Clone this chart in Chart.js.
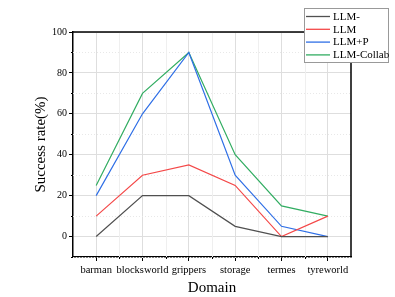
<!DOCTYPE html>
<html>
<head>
<meta charset="utf-8">
<script src="https://cdn.jsdelivr.net/npm/chart.js@4.4.0/dist/chart.umd.min.js"></script>
<style>
  html, body { margin: 0; padding: 0; background: #fff; }
  #wrap { width: 395px; height: 297px; }
</style>
</head>
<body>
<div id="wrap"><canvas id="successChart" width="395" height="297"></canvas></div>
<script>
// data
const domains = ["barman", "blocksworld", "grippers", "storage", "termes", "tyreworld"];
const llmMinus = [0, 20, 20, 5, 0, 0];
const llm = [10, 30, 35, 25, 0, 10];
const llmP = [20, 60, 90, 30, 5, 0];
const llmCollab = [25, 70, 90, 40, 15, 10];
const yTicks = [0, 20, 40, 60, 80, 100];
const yMinor = [-10, 10, 30, 50, 70, 90];

const serif = "'Liberation Serif', 'Times New Roman', serif";

// minor grid, frame, minor ticks and the boxed legend (Origin style)
const originLook = {
  id: "originLook",
  beforeDatasetsDraw(chart) {
    const { ctx, chartArea: a, scales: { x, y } } = chart;
    ctx.save();
    ctx.strokeStyle = "#e8e8e8";
    ctx.lineWidth = 1;
    ctx.setLineDash([1, 2]);
    yMinor.forEach((v) => {
      const py = Math.round(y.getPixelForValue(v)) + 0.5;
      ctx.beginPath(); ctx.moveTo(a.left, py); ctx.lineTo(a.right, py); ctx.stroke();
    });
    ctx.setLineDash([]);
    ctx.strokeStyle = "#efefef";
    for (let i = 0; i < domains.length - 1; i++) {
      const px = Math.round((x.getPixelForValue(i) + x.getPixelForValue(i + 1)) / 2) + 0.5;
      ctx.beginPath(); ctx.moveTo(px, a.top); ctx.lineTo(px, a.bottom); ctx.stroke();
    }
    ctx.restore();
  },
  afterDraw(chart) {
    const { ctx, chartArea: a, scales: { x, y } } = chart;
    ctx.save();
    // top + right frame
    ctx.strokeStyle = "#000";
    ctx.lineWidth = 1.5;
    ctx.beginPath();
    ctx.moveTo(a.left, a.top); ctx.lineTo(a.right, a.top); ctx.lineTo(a.right, a.bottom);
    ctx.stroke();
    // minor ticks
    ctx.lineWidth = 1;
    yMinor.forEach((v) => {
      const py = Math.round(y.getPixelForValue(v)) + 0.5;
      ctx.beginPath(); ctx.moveTo(a.left - 2, py); ctx.lineTo(a.left, py); ctx.stroke();
    });
    for (let i = 0; i < domains.length - 1; i++) {
      const px = Math.round((x.getPixelForValue(i) + x.getPixelForValue(i + 1)) / 2) + 0.5;
      ctx.beginPath(); ctx.moveTo(px, a.bottom); ctx.lineTo(px, a.bottom + 2); ctx.stroke();
    }
    // legend box
    const bx = 304, by = 8, bw = 84, bh = 54;
    ctx.fillStyle = "#fff";
    ctx.fillRect(bx, by, bw, bh);
    ctx.strokeStyle = "#999";
    ctx.lineWidth = 1;
    ctx.strokeRect(bx + 0.5, by + 0.5, bw, bh);
    ctx.font = "11px " + serif;
    ctx.textBaseline = "middle";
    ctx.textAlign = "left";
    chart.data.datasets.forEach((ds, i) => {
      const ly = by + 8.5 + i * 12.8;
      ctx.strokeStyle = ds.borderColor;
      ctx.lineWidth = 1.3;
      ctx.beginPath(); ctx.moveTo(bx + 2, ly); ctx.lineTo(bx + 26, ly); ctx.stroke();
      ctx.fillStyle = "#000";
      ctx.fillText(ds.label, bx + 29, ly + 0.5);
    });
    ctx.restore();
  },
};

const lineStyle = { borderWidth: 1.2, pointRadius: 0, tension: 0, fill: false };

new Chart(document.getElementById("successChart"), {
  type: "line",
  data: {
    labels: domains,
    datasets: [
      { label: "LLM-", data: llmMinus, borderColor: "#505050", ...lineStyle },
      { label: "LLM", data: llm, borderColor: "#f44848", ...lineStyle },
      { label: "LLM+P", data: llmP, borderColor: "#2f6fe6", ...lineStyle },
      { label: "LLM-Collab", data: llmCollab, borderColor: "#32ad62", ...lineStyle },
    ],
  },
  options: {
    responsive: false,
    animation: false,
    devicePixelRatio: 1,
    layout: { padding: { top: 32, right: 44, left: 0, bottom: 0 } },
    plugins: { legend: { display: false }, tooltip: { enabled: false } },
    scales: {
      x: {
        offset: true,
        grid: { offset: false, color: "#dedede", tickColor: "#000", tickLength: 4 },
        border: { color: "#000", width: 1.5 },
        ticks: { font: { family: serif, size: 10.5 }, color: "#000", padding: 3, maxRotation: 0, autoSkip: false },
        title: { display: true, text: "Domain", font: { family: serif, size: 15 }, color: "#000", padding: { top: 0, bottom: 0 } },
        afterFit: (s) => { s.height = 40; },
      },
      y: {
        min: -10,
        max: 100,
        afterBuildTicks: (s) => { s.ticks = yTicks.map((v) => ({ value: v })); },
        grid: { color: "#dedede", tickColor: "#000", tickLength: 4 },
        border: { color: "#000", width: 1.5 },
        ticks: { font: { family: serif, size: 10 }, color: "#000", padding: 2 },
        title: { display: true, text: "Success rate(%)", font: { family: serif, size: 15 }, color: "#000", padding: { top: 32 } },
        afterFit: (s) => { s.width = 73; },
      },
    },
  },
  plugins: [originLook],
});
</script>
</body>
</html>
